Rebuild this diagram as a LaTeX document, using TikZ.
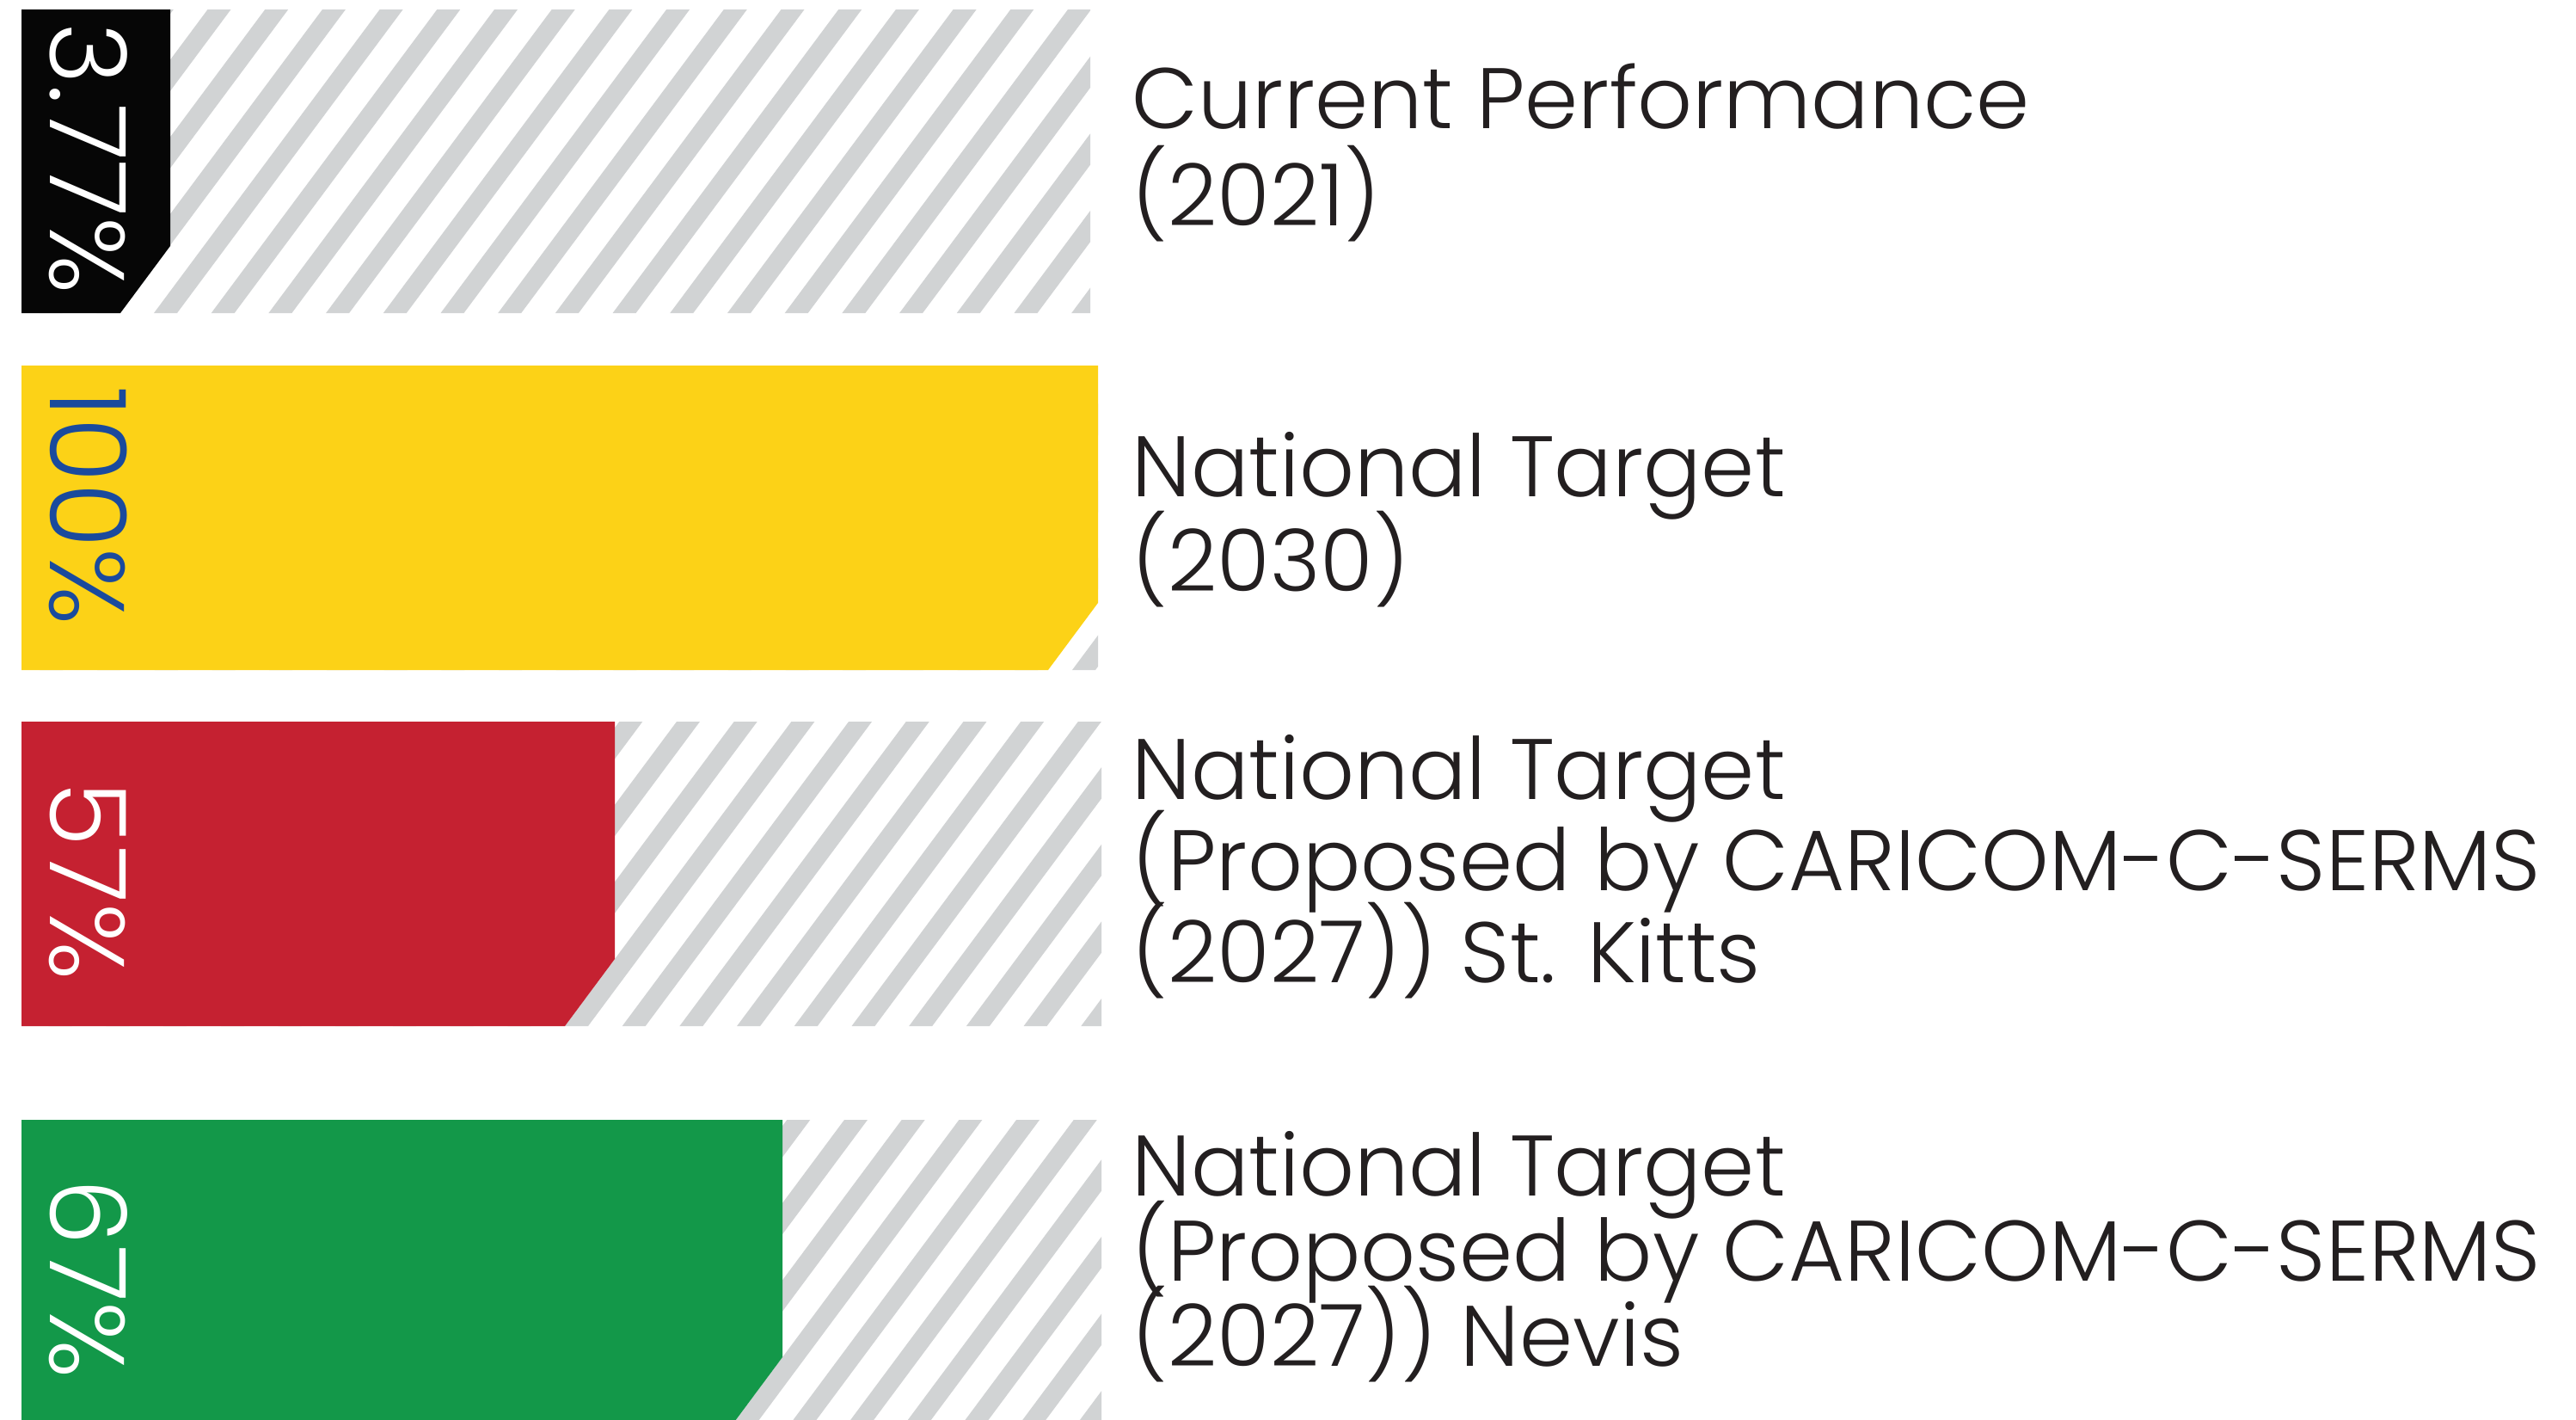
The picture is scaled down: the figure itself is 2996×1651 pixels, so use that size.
\documentclass[tikz,border=0pt]{standalone}
\usepackage{fontspec}
\IfFontExistsTF{Poppins Light}{\setmainfont{Poppins Light}}{\setmainfont{Poppins}}
\usepackage[HTML]{xcolor}
\usepackage{tikz}
\usetikzlibrary{positioning}

\definecolor{stripegray}{HTML}{D1D3D4}
\definecolor{barblack}{HTML}{060606}
\definecolor{baryellow}{HTML}{FCD217}
\definecolor{barred}{HTML}{C52131}
\definecolor{bargreen}{HTML}{139849}
\definecolor{pctblue}{HTML}{1A4A9D}
\definecolor{labeltext}{HTML}{231F20}

% label font with a fixed line distance
\newcommand{\lblfont}[1]{\fontsize{28.4}{#1}\selectfont\lineskiplimit=-100pt}

\begin{document}
\begin{tikzpicture}[x=0.01cm, y=-0.01cm,
    pct/.style={font=\fontsize{35}{40}\selectfont, rotate=-90, anchor=base west, inner sep=0pt},
    lbl/.style={anchor=base west, align=left, inner sep=0pt, text=labeltext}]
\useasboundingbox (0,0) rectangle (2996,1651);
\clip (0,0) rectangle (2996,1651);

% Hatched background of every bar (top/bottom/right/phase)
\foreach \t/\b/\r/\p in {11/364/1268/179, 425/779/1277/1247, 839/1193/1281/657, 1302/1656/1281/852}{
  \begin{scope}
    \clip (25,\t) rectangle (\r,\b);
    \foreach \k in {-25,...,20}
      \fill[stripegray] ({\p+66.7*\k},\b) -- ++(27,0) -- ++({0.744*(\b-\t)},{\t-\b}) -- ++(-27,0) -- cycle;
  \end{scope}
}

% Current performance bar
\fill[barblack] (25,11) -- (198,11) -- (198,286) -- (140,364) -- (25,364) -- cycle;
\node[pct, text=white] (pctA) at (58,26) {3.77\%};

% National target 2030
\fill[baryellow] (25,425) -- (1277,425) -- (1277,701) -- (1219,779) -- (25,779) -- cycle;
\node[pct, text=pctblue] (pctB) at (58,449) {100\%};

% St. Kitts target
\fill[barred] (25,839) -- (715,839) -- (715,1115) -- (657,1193) -- (25,1193) -- cycle;
\node[pct, text=white] (pctC) at (58,908) {57\%};

% Nevis target
\fill[bargreen] (25,1302) -- (910,1302) -- (910,1578) -- (852,1656) -- (25,1656) -- cycle;
\node[pct, text=white] (pctD) at (58,1370) {67\%};

% Labels on the right (anchored at the baseline of the last line)
\node[lbl, font=\lblfont{31.9}] (lblA) at (1316,262) {Current Performance\\(2021)};
\node[lbl, font=\lblfont{31}] (lblB) at (1316,687) {National Target\\(2030)};
\node[lbl, font=\lblfont{30.2}] (lblC) at (1316,1142) {National Target\\(Proposed by CARICOM-C-SERMS\\(2027)) St. Kitts};
\node[lbl, font=\lblfont{28.1}] (lblD) at (1316,1588) {National Target\\(Proposed by CARICOM-C-SERMS\\(2027)) Nevis};

\end{tikzpicture}
\end{document}
